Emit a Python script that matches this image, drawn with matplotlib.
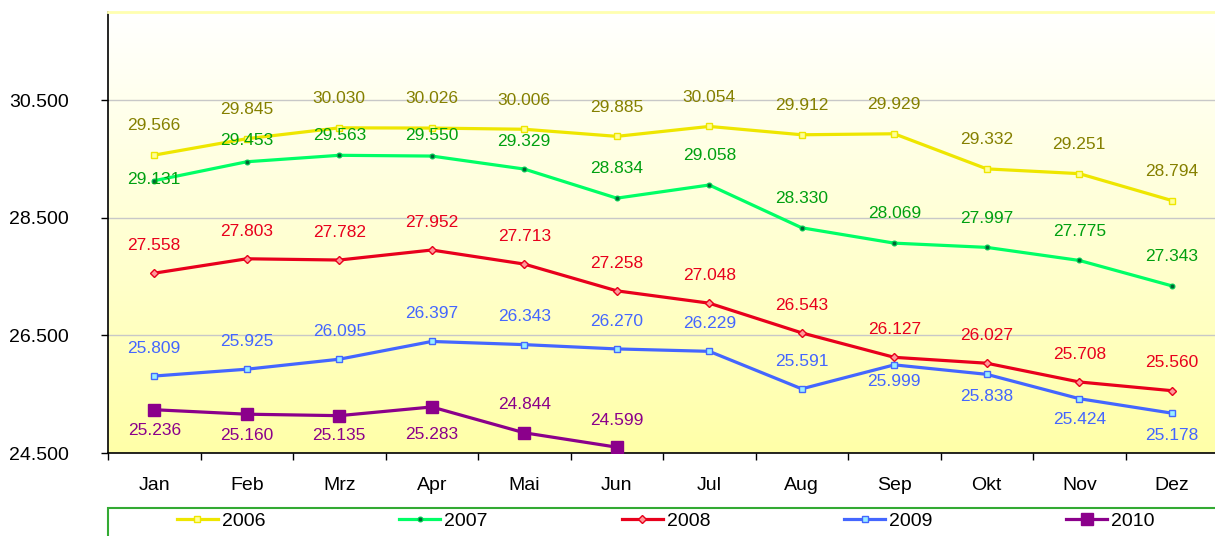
import numpy as np
import matplotlib
matplotlib.use("Agg")
import matplotlib.pyplot as plt
from matplotlib.colors import LinearSegmentedColormap
from matplotlib.patches import Rectangle

plt.rcParams['font.family'] = ['Liberation Sans', 'DejaVu Sans']

# data
months = ["Jan", "Feb", "Mrz", "Apr", "Mai", "Jun", "Jul", "Aug", "Sep", "Okt", "Nov", "Dez"]
v2006 = [29.566, 29.845, 30.030, 30.026, 30.006, 29.885, 30.054, 29.912, 29.929, 29.332, 29.251, 28.794]
v2007 = [29.131, 29.453, 29.563, 29.550, 29.329, 28.834, 29.058, 28.330, 28.069, 27.997, 27.775, 27.343]
v2008 = [27.558, 27.803, 27.782, 27.952, 27.713, 27.258, 27.048, 26.543, 26.127, 26.027, 25.708, 25.560]
v2009 = [25.809, 25.925, 26.095, 26.397, 26.343, 26.270, 26.229, 25.591, 25.999, 25.838, 25.424, 25.178]
v2010 = [25.236, 25.160, 25.135, 25.283, 24.844, 24.599]
yticks = [24.5, 26.5, 28.5, 30.5]

# label offsets in points (vertical), per series
off2006 = [21] * 12
off2007 = [1, 15, 14, 15, 20, 21, 21, 21, 21, 21, 21, 21]
off2008 = [20] * 12
off2009 = [20, 20, 20, 20, 20, 20, 20, 20, -12, -16, -15, -16]
off2010 = [-15, -15, -14, -20, 20, 19]

series = [
    ("2006", v2006, off2006, "#EEE600", "#858000", dict(marker="s", ms=4.5, mfc="#FFFF99", mec="#EEE600", mew=1)),
    ("2007", v2007, off2007, "#00FF66", "#00A010", dict(marker="o", ms=3.5, mfc="#006633", mec="#00CC55", mew=0.8)),
    ("2008", v2008, off2008, "#E8001C", "#E8001C", dict(marker="D", ms=4, mfc="#FF9999", mec="#E8001C", mew=1)),
    ("2009", v2009, off2009, "#4466FF", "#4466FF", dict(marker="s", ms=4.5, mfc="#99EEFF", mec="#4466FF", mew=1)),
    ("2010", v2010, off2010, "#8B008B", "#8B008B", dict(marker="s", ms=8, mfc="#8B008B", mec="#8B008B", mew=1)),
]

fig = plt.figure(figsize=(12.15, 5.36), dpi=100)
ax = fig.add_axes([108 / 1215, 83 / 536, 1110 / 1215, 441 / 536])

# gradient background
cmap = LinearSegmentedColormap.from_list("bg", ["#FFFFA8", "#FFFFFF"])
grad = np.linspace(0, 1, 256).reshape(-1, 1)
ax.imshow(grad, cmap=cmap, aspect="auto", extent=[0, 1, 0, 1],
          transform=ax.transAxes, origin="lower", zorder=0)

x = np.arange(len(months))
for name, vals, offs, lc, tc, mk in series:
    xs = x[:len(vals)]
    ax.plot(xs, vals, color=lc, lw=2.3, label=name, zorder=3, **mk)
    for xi, v, o in zip(xs, vals, offs):
        ax.annotate(f"{v:.3f}", (xi, v), xytext=(0, o), textcoords="offset points",
                    ha="center", va="center", color=tc, fontsize=12.5, zorder=4)

ax.set_xlim(-0.5, 11.5)
ax.set_ylim(24.5, 32.0)
ax.set_yticks(yticks)
ax.set_yticklabels([f"{t:.3f}" for t in yticks], fontsize=14)
ax.set_xticks(x)
ax.set_xticklabels(months, fontsize=14)
ax.set_xticks(np.arange(-0.5, 12, 1), minor=True)
ax.tick_params(axis="x", which="major", length=0, pad=17)
ax.tick_params(axis="x", which="minor", length=5, width=1, direction="out")
ax.tick_params(axis="y", length=5, width=1, pad=23)
ax.grid(axis="y", color="#C8C8C8", lw=1, zorder=1)
ax.set_axisbelow(True)
ax.spines["right"].set_visible(False)
ax.spines["top"].set_color("#FFFFB0")
ax.spines["top"].set_linewidth(2)
ax.spines["left"].set_linewidth(1.2)
ax.spines["bottom"].set_linewidth(1.2)

# legend box
fig.patches.append(Rectangle((108 / 1215, -0.05), 1.0, (536 - 508) / 536 + 0.05,
                             transform=fig.transFigure, fill=False,
                             edgecolor="#33AA33", lw=1.5))
fig.legend(loc="center left", ncol=5, frameon=False, fontsize=14,
           bbox_to_anchor=(177 / 1215, 15 / 536),
           handlelength=2.1, handletextpad=0.2, columnspacing=6.9,
           borderpad=0, borderaxespad=0)

fig.savefig("out.png", dpi=100)
